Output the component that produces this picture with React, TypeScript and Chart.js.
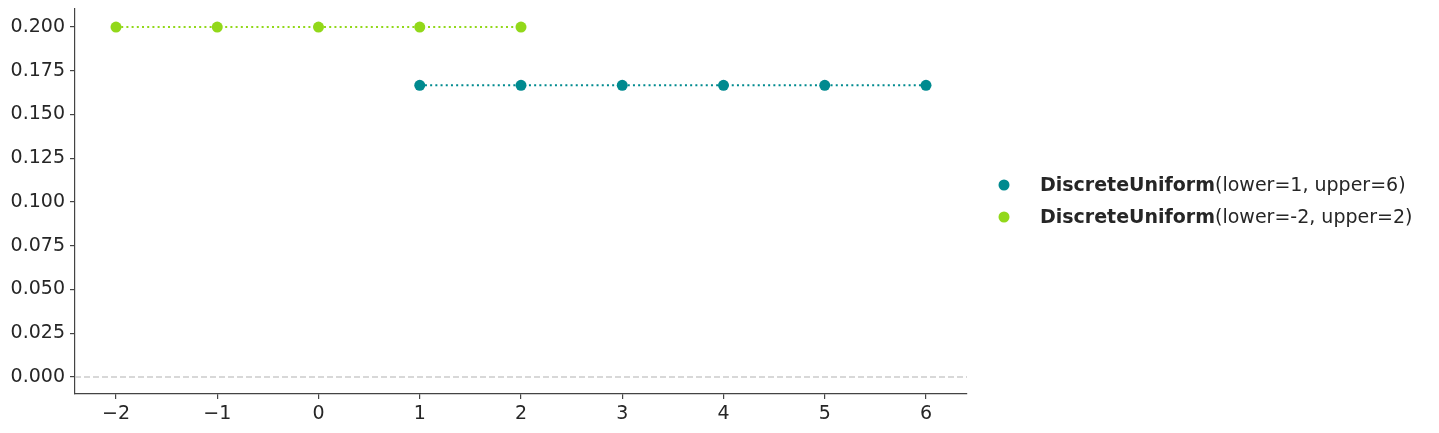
import React, { useEffect, useRef } from "react";
import { Chart, registerables } from "chart.js";

Chart.register(...registerables);

const seriesLabels = ["lower=1, upper=6", "lower=-2, upper=2"];
const seriesName = "DiscreteUniform";
const xA = [1, 2, 3, 4, 5, 6];
const yA = [0.1667, 0.1667, 0.1667, 0.1667, 0.1667, 0.1667];
const xB = [-2, -1, 0, 1, 2];
const yB = [0.2, 0.2, 0.2, 0.2, 0.2];
const colors = ["#008a8f", "#92d81a"];

const FONT = "'DejaVu Sans', sans-serif";
const TEXT = "#262626";
const FS = 19;

const zeroLine = {
  id: "zeroLine",
  beforeDatasetsDraw(chart: any) {
    const { ctx, chartArea, scales } = chart;
    const y = scales.y.getPixelForValue(0);
    ctx.save();
    ctx.strokeStyle = "#cccccc";
    ctx.lineWidth = 1.6;
    ctx.setLineDash([6, 3]);
    ctx.beginPath();
    ctx.moveTo(chartArea.left, y);
    ctx.lineTo(chartArea.right, y);
    ctx.stroke();
    ctx.restore();
  },
};

const customLegend = {
  id: "customLegend",
  afterDraw(chart: any) {
    const { ctx } = chart;
    ctx.save();
    ctx.textBaseline = "middle";
    const rows = [185, 217];
    seriesLabels.forEach((lab, i) => {
      const y = rows[i];
      ctx.fillStyle = colors[i];
      ctx.beginPath();
      ctx.arc(1004, y, 5.5, 0, Math.PI * 2);
      ctx.fill();
      ctx.fillStyle = TEXT;
      ctx.font = `bold ${FS}px ${FONT}`;
      ctx.fillText(seriesName, 1040, y + 1);
      const w = ctx.measureText(seriesName).width;
      ctx.font = `${FS}px ${FONT}`;
      ctx.fillText("(" + lab + ")", 1040 + w, y + 1);
    });
    ctx.restore();
  },
};

export default function App() {
  const ref = useRef<HTMLCanvasElement>(null);
  useEffect(() => {
    const mk = (xs: number[], ys: number[]) => xs.map((x, i) => ({ x, y: ys[i] }));
    const ds = (i: number, data: any[]) => ({
      label: seriesLabels[i],
      data,
      showLine: true,
      borderColor: colors[i],
      backgroundColor: colors[i],
      borderWidth: 2,
      borderDash: [2, 3.2],
      pointRadius: 5.5,
      pointHoverRadius: 5.5,
      pointBorderWidth: 0,
      pointBackgroundColor: colors[i],
    });
    const chart = new Chart(ref.current!, {
      type: "scatter",
      data: {
        datasets: [ds(0, mk(xA, yA)), ds(1, mk(xB, yB))],
      },
      options: {
        animation: false,
        responsive: false,
        devicePixelRatio: 1,
        layout: { padding: { left: 0, right: 472, top: 9, bottom: 0 } },
        plugins: { legend: { display: false }, tooltip: { enabled: false } },
        scales: {
          x: {
            type: "linear",
            min: -2.405,
            max: 6.405,
            afterFit: (s: any) => {
              s.height = 39;
              s.paddingLeft = 0;
              s.paddingRight = 0;
            },
            border: { display: true, color: "#444444", width: 1.2 },
            grid: { display: true, drawOnChartArea: false, drawTicks: true, tickLength: 5, color: "#444444", lineWidth: 1.2 },
            ticks: {
              stepSize: 1,
              includeBounds: false,
              color: TEXT,
              font: { family: FONT, size: FS },
              padding: 4,
              maxRotation: 0,
              callback: (v: any) => (Number(v) < 0 ? "\u2212" + Math.abs(Number(v)) : String(v)),
            },
          },
          y: {
            type: "linear",
            min: -0.0097,
            max: 0.2103,
            afterFit: (s: any) => {
              s.width = 75;
              s.paddingTop = 0;
              s.paddingBottom = 0;
            },
            border: { display: true, color: "#444444", width: 1.2 },
            grid: { display: true, drawOnChartArea: false, drawTicks: true, tickLength: 5, color: "#444444", lineWidth: 1.2 },
            ticks: {
              stepSize: 0.025,
              includeBounds: false,
              color: TEXT,
              font: { family: FONT, size: FS },
              padding: 5,
              callback: (v: any) => Number(v).toFixed(3),
            },
          },
        },
      },
      plugins: [zeroLine, customLegend],
    });
    return () => chart.destroy();
  }, []);
  return (
    <div style={{ position: "absolute", left: 0, top: 0, width: 1439, height: 433, background: "#fff" }}>
      <canvas ref={ref} width={1439} height={433} style={{ width: 1439, height: 433, display: "block" }} />
    </div>
  );
}
